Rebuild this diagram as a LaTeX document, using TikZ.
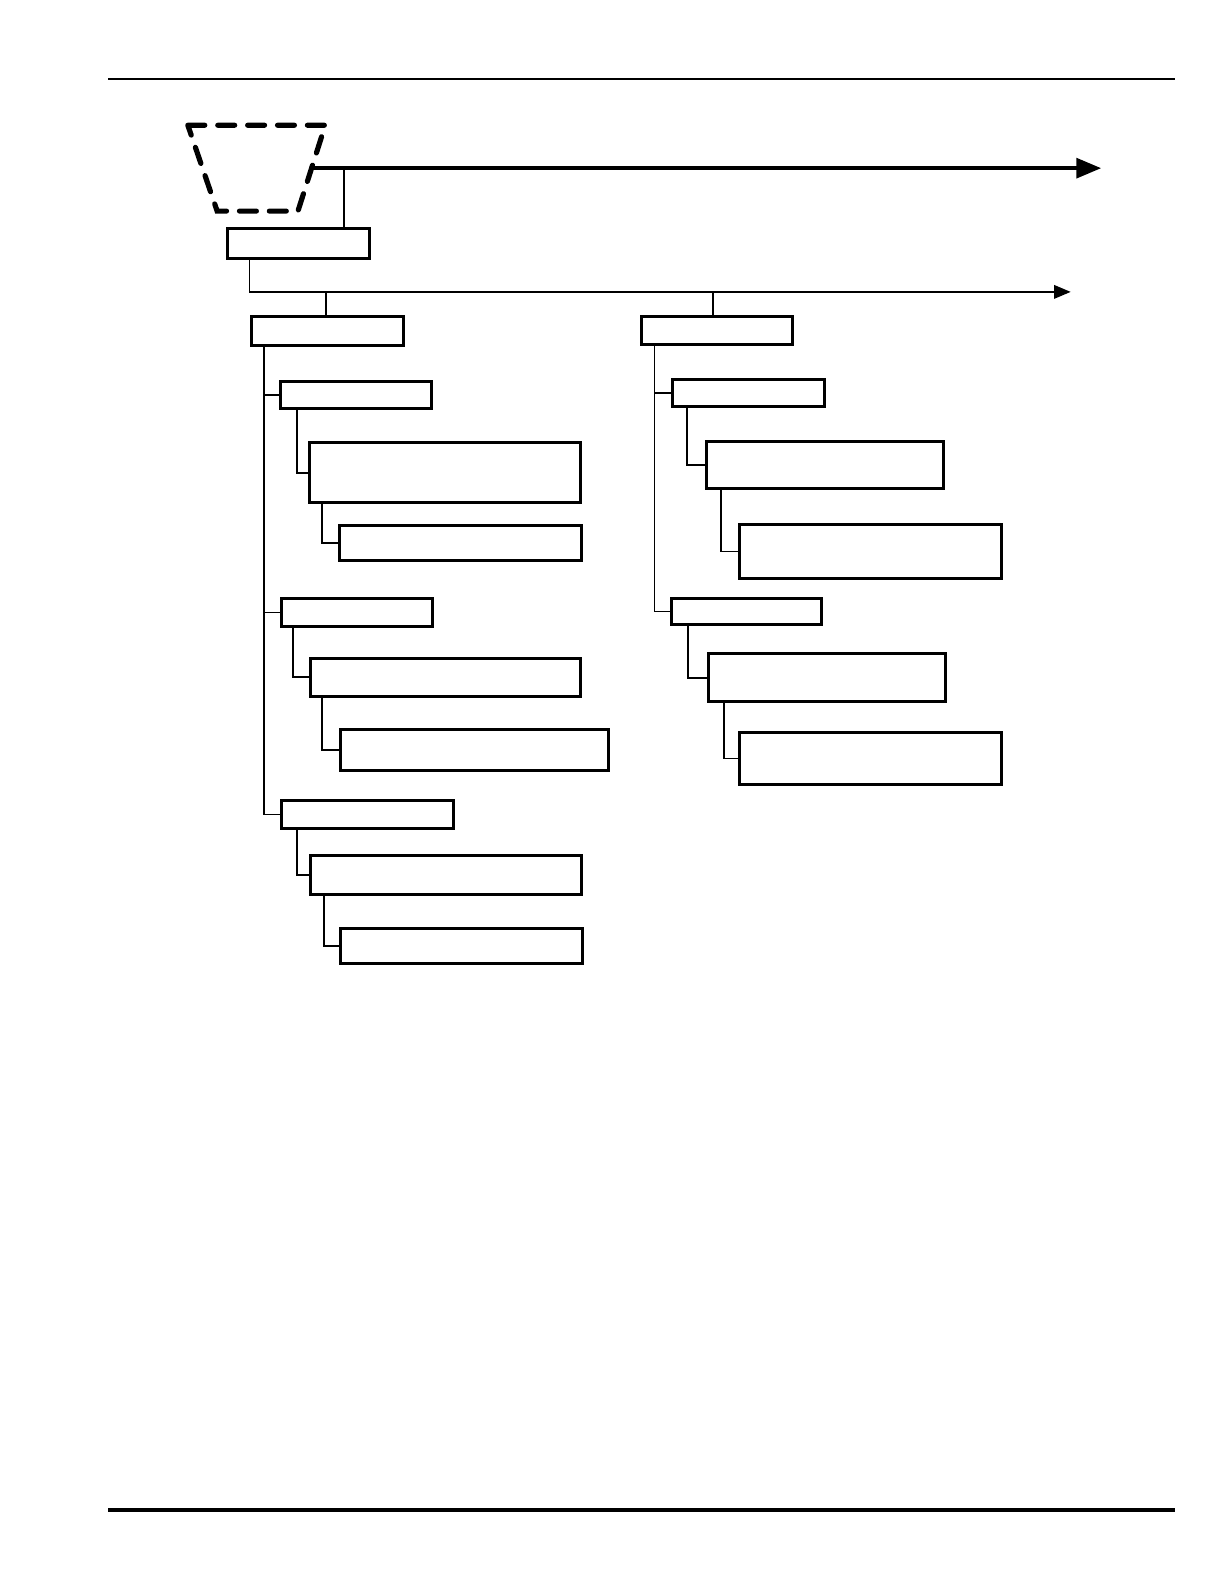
\documentclass[tikz,border=0pt]{standalone}
\usetikzlibrary{arrows,shapes,calc}
\tikzset{box/.style={draw,line width=1.5pt,anchor=north west,inner sep=0pt}}
\tikzset{link/.style={line width=0.9pt}}
\tikzset{bus/.style={-triangle 45,line width=0.9pt}}
\tikzset{mainline/.style={-triangle 45,line width=1.9pt}}
\tikzset{hopper/.style={line width=2.6pt,line cap=round,dash pattern=on 8.5pt off 6.5pt}}

\begin{document}
\begin{tikzpicture}[x=0.505bp,y=-0.505bp]
    \useasboundingbox (0bp,0bp) rectangle (612bp,-792bp);
    \draw [line width=0.9pt] (107,78) -- (1163,78);
    \draw [line width=1.9pt] (107,1495) -- (1163,1495);
    % dashed source shape
    \draw [hopper] (186,124) -- (322,124) -- (295,209) -- (215,209) -- cycle;
    \coordinate (src) at (308.5,166.5);
    \coordinate (endA) at (1090,166.5);
    \coordinate (endB) at (1060,289);
    \draw [mainline] (src) -- (endA);
    \foreach \n/\x/\y/\w/\h in {A/224/225/140/29, L/248/312/150/29, R/634/312/149/28,
        L1/276/376/150/27, L1a/305/437/268/59, L1b/335/519/239/34,
        L2/277/591/150/28, L2a/306/650/267/38, L2b/336/721/265/40,
        L3/277/791/171/28, L3a/306/846/268/38, L3b/336/918/239/34,
        R1/664/374/151/27, R1a/698/436/235/46, R1b/731/518/259/53,
        R2/663/591/149/26, R2a/700/646/235/47, R2b/731/724/259/51} {
        \node [box,minimum width=\w*0.505bp,minimum height=\h*0.505bp] (\n) at (\x,\y) {};
    }
    \draw [link] ([xshift=-13.5bp]A.north east) -- ([xshift=-13.5bp]A.north east |- src);
    \draw [bus] ([xshift=11.6bp]A.south west) |- (endB);
    \draw [link] ([xshift=-1bp]L.north) -- ([xshift=-1bp]L.north |- endB);
    \draw [link] ([xshift=-2bp]R.north) -- ([xshift=-2bp]R.north |- endB);
    \foreach \p/\c/\d in {L/L1/13, L/L2/13, L/L3/13, L1/L1a/18, L1a/L1b/14,
        L2/L2a/13, L2a/L2b/13, L3/L3a/17, L3a/L3b/15,
        R/R1/14, R/R2/14, R1/R1a/16, R1a/R1b/16, R2/R2a/18, R2a/R2b/17} {
        \draw [link] ([xshift=\d*0.505bp]\p.south west) |- (\c.west);
    }
\end{tikzpicture}
\end{document}
